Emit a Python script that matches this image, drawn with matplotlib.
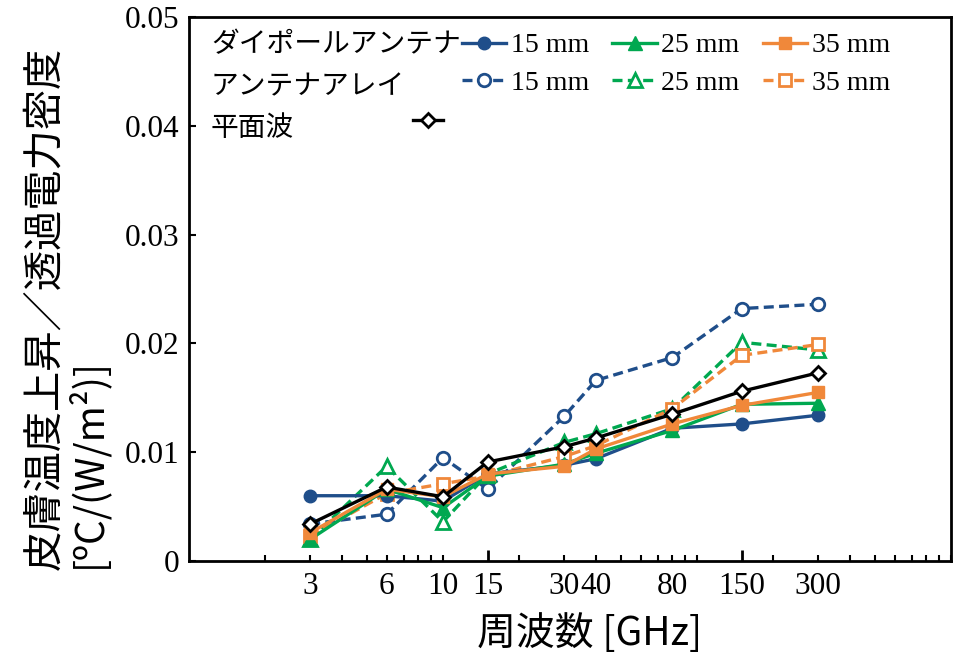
import matplotlib
matplotlib.use('Agg')
import matplotlib.pyplot as plt
import numpy as np

# -----------------------data-----------------------
freq = [3, 6, 10, 15, 30, 40, 80, 150, 300]   # GHz

# dipole antenna (solid)
dipole_15 = [0.0060, 0.0060, 0.0055, 0.0080, 0.0088, 0.0094, 0.0122, 0.0126, 0.0134]
dipole_25 = [0.0020, 0.0066, 0.0049, 0.0078, 0.0089, 0.0099, 0.0120, 0.0144, 0.0145]
dipole_35 = [0.0026, 0.0066, 0.0059, 0.0080, 0.0087, 0.0103, 0.0126, 0.0143, 0.0155]
# antenna array (dashed)
array_15 = [0.0034, 0.0043, 0.0095, 0.0066, 0.0133, 0.0166, 0.0187, 0.0232, 0.0236]
array_25 = [0.0020, 0.0087, 0.0036, 0.0080, 0.0109, 0.0117, 0.0140, 0.0201, 0.0194]
array_35 = [0.0023, 0.0062, 0.0071, 0.0078, 0.0096, 0.0106, 0.0140, 0.0189, 0.0199]
# plane wave
plane = [0.0034, 0.0068, 0.0059, 0.0091, 0.0105, 0.0113, 0.0135, 0.0156, 0.0173]

size_labels = ['15 mm', '25 mm', '35 mm']
group_labels = ['ダイポールアンテナ', 'アンテナアレイ', '平面波']

x_labels = ['3', '6', '10', '15', '30', '40', '80', '150', '300']
y_ticks = [0, 0.01, 0.02, 0.03, 0.04, 0.05]
y_labels = ['0', '0.01', '0.02', '0.03', '0.04', '0.05']

# -----------------------fig configuration-----------------------
jp = 'Noto Sans CJK JP'
serif = 'Liberation Serif'
navy = '#1F4E8A'
green = '#00A850'
orange = '#F0883A'
black = '#000000'
lw = 2.4
dash = (3, 1.6)
tick_size = 22.5

fig = plt.figure(figsize=(9.59, 6.56), dpi=100)
ax = fig.add_axes([189 / 959, 1 - 561 / 656, 762 / 959, 544 / 656])

# array (dashed, open markers)
a15, = ax.plot(freq, array_15, color=navy, lw=lw, dashes=dash, marker='o', ms=9,
               mfc='white', mec=navy, mew=2)
a25, = ax.plot(freq, array_25, color=green, lw=lw, dashes=dash, marker='^', ms=10,
               mfc='white', mec=green, mew=2)
a35, = ax.plot(freq, array_35, color=orange, lw=lw, dashes=dash, marker='s', ms=9,
               mfc='white', mec=orange, mew=2)
# dipole (solid, filled markers)
s15, = ax.plot(freq, dipole_15, color=navy, lw=lw, marker='o', ms=9)
s25, = ax.plot(freq, dipole_25, color=green, lw=lw, marker='^', ms=10)
s35, = ax.plot(freq, dipole_35, color=orange, lw=lw, marker='s', ms=9)
# plane wave
pw, = ax.plot(freq, plane, color=black, lw=lw, marker='D', ms=7.5,
              mfc='white', mec=black, mew=2)

# axes
ax.set_xscale('log')
ax.set_xlim(1, 1000)
ax.set_ylim(0, 0.05)
for sp in ax.spines.values():
    sp.set_linewidth(2)

# x ticks: long ticks at 15 and 150, short ones at 2..10 x 10^k
major_x = [15, 150]
ax.set_xticks(major_x, ['15', '150'])
minor_x = sorted(set(m * 10 ** k for k in range(3) for m in range(2, 11)))
minor_lab = [str(v) if (str(v) in x_labels and v not in major_x) else '' for v in minor_x]
ax.set_xticks(minor_x, minor_lab, minor=True)
ax.tick_params(axis='x', which='major', direction='in', length=8, width=2, pad=8,
               labelsize=tick_size)
ax.tick_params(axis='x', which='minor', direction='in', length=4, width=1.5, pad=8,
               labelsize=tick_size)
ax.set_yticks(y_ticks, y_labels)
ax.tick_params(axis='y', direction='in', length=5, width=1.5, pad=7, labelsize=tick_size)
for t in ax.get_xticklabels(which='both') + ax.get_yticklabels():
    t.set_fontfamily(serif)

# axis names
ax.set_xlabel('周波数 [GHz]', fontsize=28, fontfamily=jp, va='center')
ax.xaxis.set_label_coords((590 - 189) / 762, (561 - 634) / 544)
fig.text(45 / 959, 1 - 570 / 656, '皮膚温度上昇／透過電力密度', rotation=90,
         ha='center', va='bottom', fontsize=29, fontfamily=jp)
fig.text(88 / 959, 1 - 568 / 656, '[ºC/(W/m²)]', rotation=90,
         ha='center', va='bottom', fontsize=28, fontfamily=jp)

# legend
leg1 = ax.legend([s15, a15, s25, a25, s35, a35],
                 [size_labels[0], size_labels[0], size_labels[1], size_labels[1],
                  size_labels[2], size_labels[2]],
                 ncol=3, frameon=False, loc='upper left',
                 bbox_to_anchor=((462 - 189) / 762, (561 - 33) / 544),
                 borderaxespad=0, borderpad=0, handlelength=1.6, handletextpad=0.15,
                 columnspacing=0.85, labelspacing=0.42,
                 prop={'family': serif, 'size': 20})
ax.add_artist(leg1)
ax.legend([pw], [''], frameon=False, loc='center',
          bbox_to_anchor=((428 - 189) / 762, (561 - 123) / 544),
          borderaxespad=0, borderpad=0, handlelength=1.1, handletextpad=0,
          prop={'family': serif, 'size': 20})

for lab, yy in zip(group_labels, [44, 86, 128]):
    ax.text((211 - 189) / 762, (561 - yy) / 544, lab, transform=ax.transAxes,
            ha='left', va='center', fontsize=20, fontfamily=jp)

plt.savefig('out.png', dpi=100)
